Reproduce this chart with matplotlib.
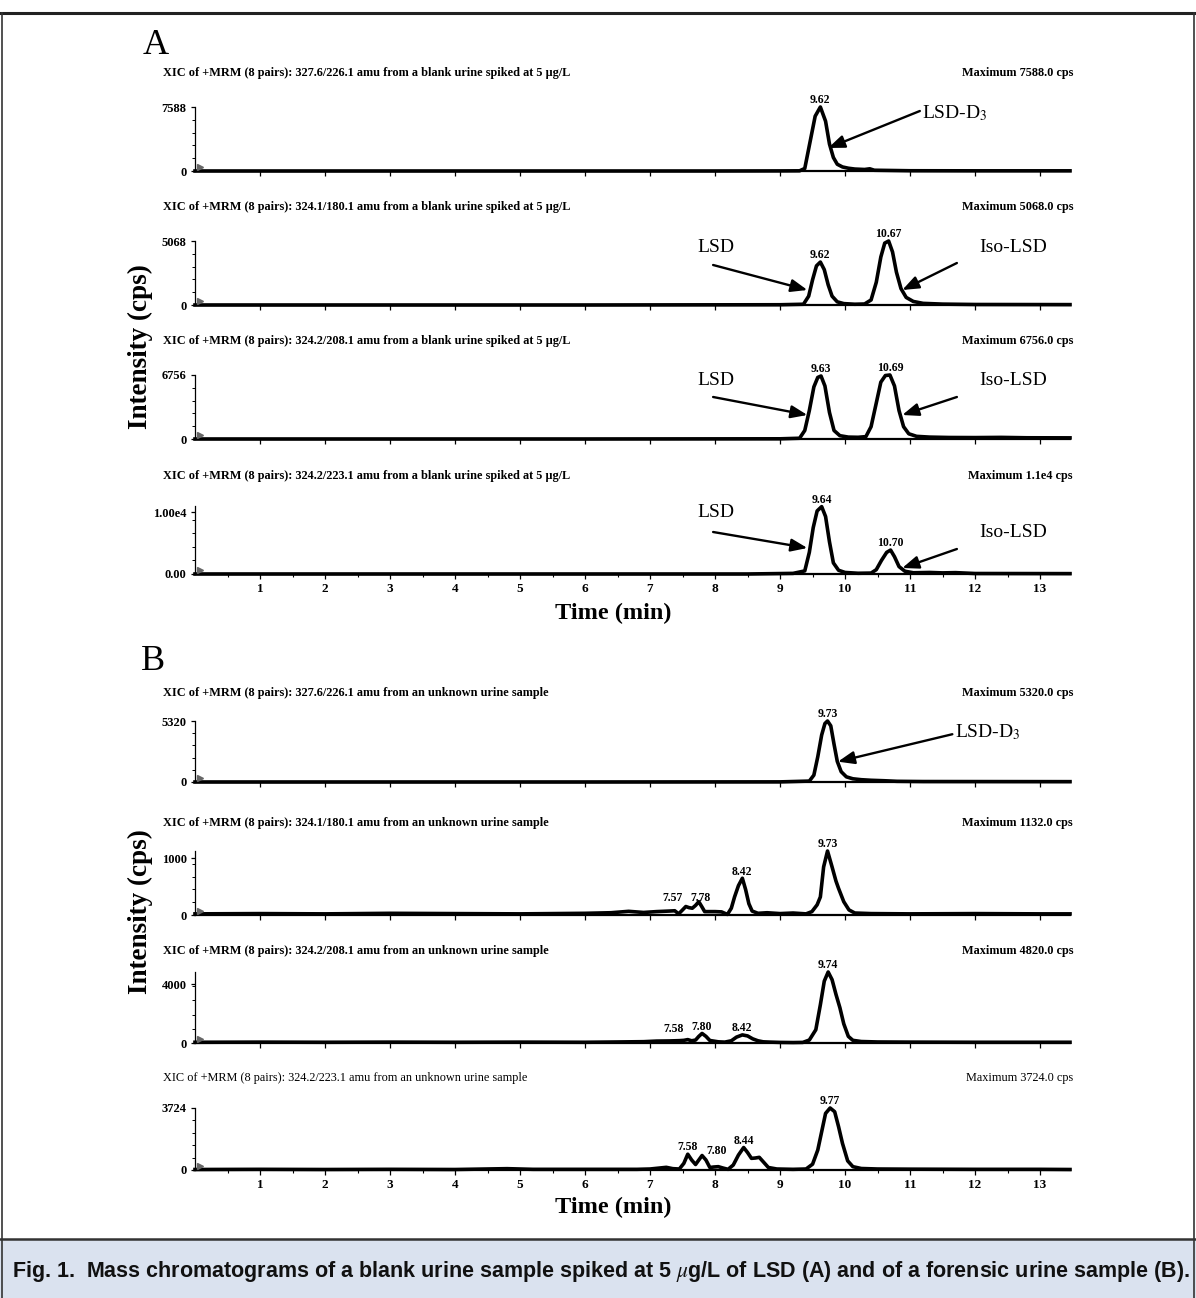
import matplotlib
matplotlib.use("Agg")
import matplotlib.pyplot as plt
import numpy as np
from matplotlib.lines import Line2D
from matplotlib.patches import Rectangle
from matplotlib.ticker import FixedLocator

plt.rcParams['font.family'] = ['Liberation Serif', 'DejaVu Serif']
plt.rcParams['mathtext.fontset'] = 'stix'

# ---------------- data ----------------
A1_t = [0, 2.0, 4.0, 6.0, 8.0, 9.0, 9.30, 9.38, 9.46, 9.54, 9.62, 9.70, 9.76, 9.82, 9.88, 9.96, 10.05, 10.15, 10.30, 10.38, 10.45, 11.0, 12.0, 13.46]
A1_y = [0, 0, 0, 0, 0, 10, 20, 300, 3400, 6500, 7588, 5900, 3200, 1600, 800, 480, 330, 230, 180, 260, 90, 30, 20, 20]

A2_t = [0, 3.0, 6.0, 9.0, 9.36, 9.44, 9.50, 9.56, 9.62, 9.68, 9.74, 9.80, 9.88, 9.98, 10.15, 10.30, 10.40, 10.48, 10.55, 10.61, 10.67, 10.73, 10.79, 10.86, 10.94, 11.05, 11.2, 11.5, 12.0, 13.46]
A2_y = [0, 0, 0, 20, 60, 700, 2000, 3100, 3400, 2800, 1600, 700, 250, 110, 60, 80, 400, 1800, 3800, 4900, 5068, 4200, 2600, 1300, 600, 280, 130, 70, 40, 30]

A3_t = [0, 3.0, 6.0, 9.0, 9.30, 9.38, 9.45, 9.52, 9.58, 9.63, 9.69, 9.76, 9.83, 9.92, 10.05, 10.20, 10.32, 10.40, 10.48, 10.55, 10.62, 10.69, 10.76, 10.83, 10.90, 10.98, 11.1, 11.3, 11.6, 12.0, 12.4, 12.8, 13.46]
A3_y = [0, 0, 0, 20, 80, 900, 3000, 5500, 6500, 6650, 5600, 2800, 900, 350, 200, 180, 250, 1300, 3800, 6000, 6700, 6756, 5600, 3000, 1300, 550, 280, 200, 160, 150, 170, 130, 120]

A4_t = [0, 3.0, 6.0, 8.5, 9.2, 9.38, 9.45, 9.51, 9.57, 9.64, 9.70, 9.76, 9.82, 9.90, 10.0, 10.2, 10.40, 10.48, 10.56, 10.64, 10.70, 10.76, 10.83, 10.92, 11.05, 11.3, 11.5, 11.7, 12.0, 13.46]
A4_y = [0, 0, 0, 0, 100, 500, 3500, 7500, 10200, 10900, 9300, 5200, 1800, 600, 250, 120, 150, 700, 2200, 3500, 3870, 2800, 1200, 450, 200, 250, 180, 220, 80, 60]

B1_t = [0, 3.0, 6.0, 9.0, 9.45, 9.52, 9.58, 9.64, 9.69, 9.73, 9.78, 9.83, 9.88, 9.94, 10.02, 10.12, 10.25, 10.40, 10.60, 10.80, 11.2, 13.46]
B1_y = [0, 0, 0, 10, 80, 600, 2200, 4100, 5100, 5320, 4900, 3300, 1800, 900, 450, 280, 200, 150, 110, 60, 40, 30]

B2_t = [0, 1.0, 2.0, 3.0, 4.0, 5.0, 6.0, 6.4, 6.67, 6.9, 7.1, 7.3, 7.38, 7.44, 7.50, 7.55, 7.60, 7.65, 7.70, 7.75, 7.80, 7.84, 8.0, 8.10, 8.19, 8.25, 8.30, 8.36, 8.42, 8.47, 8.52, 8.57, 8.66, 8.8, 9.0, 9.2, 9.4, 9.49, 9.57, 9.62, 9.67, 9.73, 9.80, 9.86, 9.90, 9.98, 10.06, 10.15, 10.4, 11.0, 12.0, 13.0, 13.46]
B2_y = [20, 25, 20, 30, 25, 20, 30, 40, 65, 45, 60, 70, 75, 20, 90, 150, 130, 120, 170, 235, 140, 60, 60, 55, 10, 120, 320, 520, 650, 450, 200, 70, 30, 40, 25, 35, 20, 60, 180, 320, 850, 1132, 850, 600, 470, 235, 90, 35, 25, 20, 25, 20, 20]

B3_t = [0, 1.0, 2.0, 3.0, 4.0, 5.0, 6.0, 6.5, 6.9, 7.1, 7.3, 7.45, 7.52, 7.58, 7.64, 7.70, 7.75, 7.80, 7.86, 7.92, 8.05, 8.15, 8.25, 8.33, 8.42, 8.50, 8.58, 8.66, 8.74, 8.85, 9.0, 9.2, 9.35, 9.45, 9.55, 9.62, 9.68, 9.74, 9.80, 9.86, 9.92, 9.98, 10.05, 10.12, 10.25, 10.5, 11.0, 12.0, 13.0, 13.46]
B3_y = [50, 60, 50, 60, 50, 60, 50, 70, 90, 130, 140, 160, 180, 230, 150, 200, 450, 650, 450, 170, 80, 60, 150, 400, 550, 480, 280, 150, 80, 60, 40, 30, 40, 200, 900, 2600, 4200, 4820, 4300, 3300, 2400, 1300, 450, 180, 100, 70, 60, 50, 50, 50]

B4_t = [0, 1.0, 2.0, 3.0, 4.0, 4.8, 5.2, 6.0, 6.8, 7.0, 7.15, 7.25, 7.35, 7.45, 7.52, 7.58, 7.64, 7.70, 7.75, 7.80, 7.86, 7.92, 7.98, 8.05, 8.12, 8.20, 8.28, 8.36, 8.44, 8.50, 8.56, 8.62, 8.68, 8.74, 8.82, 8.95, 9.2, 9.4, 9.5, 9.58, 9.64, 9.70, 9.77, 9.84, 9.90, 9.96, 10.04, 10.12, 10.25, 10.5, 11.0, 12.0, 13.0, 13.46]
B4_y = [30, 40, 30, 40, 30, 80, 40, 40, 40, 60, 120, 160, 80, 60, 400, 950, 600, 330, 600, 870, 600, 150, 180, 200, 120, 40, 300, 900, 1350, 1050, 700, 720, 760, 500, 150, 60, 40, 60, 350, 1200, 2300, 3400, 3724, 3500, 2600, 1600, 550, 200, 90, 60, 50, 40, 40, 30]

A_titles = [
    "XIC of +MRM (8 pairs): 327.6/226.1 amu from a blank urine spiked at 5 \u00b5g/L",
    "XIC of +MRM (8 pairs): 324.1/180.1 amu from a blank urine spiked at 5 \u00b5g/L",
    "XIC of +MRM (8 pairs): 324.2/208.1 amu from a blank urine spiked at 5 \u00b5g/L",
    "XIC of +MRM (8 pairs): 324.2/223.1 amu from a blank urine spiked at 5 \u00b5g/L",
]
B_titles = [
    "XIC of +MRM (8 pairs): 327.6/226.1 amu from an unknown urine sample",
    "XIC of +MRM (8 pairs): 324.1/180.1 amu from an unknown urine sample",
    "XIC of +MRM (8 pairs): 324.2/208.1 amu from an unknown urine sample",
    "XIC of +MRM (8 pairs): 324.2/223.1 amu from an unknown urine sample",
]
A_max = ["Maximum 7588.0 cps", "Maximum 5068.0 cps", "Maximum 6756.0 cps", "Maximum 1.1e4 cps"]
B_max = ["Maximum 5320.0 cps", "Maximum 1132.0 cps", "Maximum 4820.0 cps", "Maximum 3724.0 cps"]
A_ylim = [7588, 5068, 6756, 11000]
B_ylim = [5320, 1132, 4820, 3724]
A_yticks = [[0, 7588], [0, 5068], [0, 6756], [0, 10000]]
A_yticklabels = [["0", "7588"], ["0", "5068"], ["0", "6756"], ["0.00", "1.00e4"]]
B_yticks = [[0, 5320], [0, 1000], [0, 4000], [0, 3724]]
B_yticklabels = [["0", "5320"], ["0", "1000"], ["0", "4000"], ["0", "3724"]]
x_ticks = list(range(1, 14))
x_ticklabels = [str(i) for i in x_ticks]

A_peaks = [[("9.62", 9.62)], [("9.62", 9.62), ("10.67", 10.67)],
           [("9.63", 9.63), ("10.69", 10.69)], [("9.64", 9.64), ("10.70", 10.70)]]
B_peaks = [[("9.73", 9.73)],
           [("7.57", 7.57), ("7.78", 7.78), ("8.42", 8.42), ("9.73", 9.73)],
           [("7.58", 7.58), ("7.80", 7.80), ("8.42", 8.42), ("9.74", 9.74)],
           [("7.58", 7.58), ("7.80", 7.80), ("8.44", 8.44), ("9.77", 9.77)]]

caption = "Fig. 1.  Mass chromatograms of a blank urine sample spiked at 5 $\\mu$g/L of LSD (A) and of a forensic urine sample (B)."

# ---------------- layout ----------------
W, H = 1196, 1298
fig = plt.figure(figsize=(W / 100, H / 100), dpi=100)
X0, X1 = 195, 1070
XMAX = 13.46


def fy(ypx):
    return 1 - ypx / H


def fx(xpx):
    return xpx / W


# label offsets (points) per peak label: default above
special_offsets = {
    (5, "7.57"): (-3, 2, 'right'),
    (6, "7.58"): (-3, 3, 'right'),
    (7, "7.80"): (3, -1, 'left'),
}

panels = [
    (A1_t, A1_y, 171, 64, A_ylim[0], A_yticks[0], A_yticklabels[0], A_titles[0], A_max[0], A_peaks[0], False),
    (A2_t, A2_y, 305, 64, A_ylim[1], A_yticks[1], A_yticklabels[1], A_titles[1], A_max[1], A_peaks[1], False),
    (A3_t, A3_y, 439, 64, A_ylim[2], A_yticks[2], A_yticklabels[2], A_titles[2], A_max[2], A_peaks[2], False),
    (A4_t, A4_y, 574, 68, A_ylim[3], A_yticks[3], A_yticklabels[3], A_titles[3], A_max[3], A_peaks[3], True),
    (B1_t, B1_y, 782, 61, B_ylim[0], B_yticks[0], B_yticklabels[0], B_titles[0], B_max[0], B_peaks[0], False),
    (B2_t, B2_y, 915, 64, B_ylim[1], B_yticks[1], B_yticklabels[1], B_titles[1], B_max[1], B_peaks[1], False),
    (B3_t, B3_y, 1043, 71, B_ylim[2], B_yticks[2], B_yticklabels[2], B_titles[2], B_max[2], B_peaks[2], False),
    (B4_t, B4_y, 1170, 62, B_ylim[3], B_yticks[3], B_yticklabels[3], B_titles[3], B_max[3], B_peaks[3], True),
]
title_y = [73, 207, 341, 476, 693, 823, 951, 1078]
title_bold = [True, True, True, True, True, True, True, False]

axes = []
for i, (t, y, yb, h, ymax, yt, ytl, title, mx, peaks, bottom) in enumerate(panels):
    ax = fig.add_axes([fx(X0), fy(yb), (X1 - X0) / W, h / H])
    axes.append(ax)
    ax.plot(t, y, color='black', lw=2.6, solid_joinstyle='round', clip_on=False, zorder=3)
    ax.set_xlim(0, XMAX)
    ax.set_ylim(0, ymax)
    for s in ('top', 'right'):
        ax.spines[s].set_visible(False)
    ax.spines['left'].set_linewidth(0.9)
    ax.spines['bottom'].set_linewidth(1.6)
    ax.set_yticks(yt)
    ax.set_yticklabels(ytl, fontsize=9, fontweight='bold')
    ax.yaxis.set_minor_locator(FixedLocator(list(np.linspace(0, ymax, 6)[1:-1])))
    ax.tick_params(axis='y', which='major', direction='out', length=3, width=0.9, pad=3)
    ax.tick_params(axis='y', which='minor', direction='out', length=2, width=0.7)
    ax.set_xticks(x_ticks)
    if bottom:
        ax.set_xticklabels(x_ticklabels, fontsize=9.5, fontweight='bold')
        ax.xaxis.set_minor_locator(FixedLocator([k + 0.5 for k in range(0, 14)]))
        ax.tick_params(axis='x', which='minor', direction='out', length=2.5, width=0.8)
    else:
        ax.set_xticklabels([])
    ax.tick_params(axis='x', which='major', direction='out', length=3.5, width=0.9, pad=3)
    # little origin glyph
    ax.plot([0.006], [0.06], transform=ax.transAxes, marker='>', ms=4,
            color='#666666', clip_on=False, zorder=4)
    # peak labels
    for lab, pt in peaks:
        pv = float(np.interp(pt, t, y))
        dx, dy, ha = special_offsets.get((i, lab), (0, 0.5, 'center'))
        ax.annotate(lab, xy=(pt, pv), xytext=(dx, dy), textcoords='offset points',
                    ha=ha, va='bottom', fontsize=8.5, fontweight='bold',
                    annotation_clip=False)
    w = 'bold' if title_bold[i] else 'normal'
    fig.text(fx(163), fy(title_y[i]), title, ha='left', va='center', fontsize=8.8, fontweight=w)
    fig.text(fx(1073), fy(title_y[i]), mx, ha='right', va='center', fontsize=8.8, fontweight=w)

# ---------------- arrows and compound names ----------------
arrow_kw = dict(arrowstyle='-|>,head_length=0.9,head_width=0.35', lw=1.7, color='black',
                mutation_scale=11, shrinkA=0, shrinkB=0)


def label_arrow(ax, text, txy, tail, head, ha='center'):
    ax.text(txy[0], txy[1], text, ha=ha, va='center', fontsize=14, clip_on=False)
    ax.annotate('', xy=head, xytext=tail, arrowprops=arrow_kw, annotation_clip=False)


label_arrow(axes[0], 'LSD-D$_3$', (11.18, 6877), (11.15, 7114), (9.74, 2727), ha='left')
label_arrow(axes[1], 'LSD', (8.02, 4592), (7.97, 3168), (9.42, 1188))
label_arrow(axes[1], 'Iso-LSD', (12.58, 4592), (11.72, 3326), (10.88, 1188))
label_arrow(axes[2], 'LSD', (8.02, 6228), (7.97, 4434), (9.42, 2534))
label_arrow(axes[2], 'Iso-LSD', (12.58, 6228), (11.72, 4434), (10.88, 2534))
label_arrow(axes[3], 'LSD', (8.02, 9868), (7.97, 6794), (9.42, 4206))
label_arrow(axes[3], 'Iso-LSD', (12.58, 6794), (11.72, 4044), (10.88, 970))
label_arrow(axes[4], 'LSD-D$_3$', (11.69, 4345), (11.65, 4167), (9.89, 1773), ha='left')

# ---------------- figure texts ----------------
fig.text(fx(143), fy(46), 'A', fontsize=26, ha='left', va='center')
fig.text(fx(141), fy(661), 'B', fontsize=26, ha='left', va='center')
for yc in (347, 912):
    fig.text(fx(140), fy(yc), 'Intensity (cps)', rotation=90, ha='center', va='center',
             fontsize=19.5, fontweight='bold')
for yc in (613, 1207):
    fig.text(fx(613), fy(yc), 'Time (min)', ha='center', va='center', fontsize=17.5, fontweight='bold')

# ---------------- frame and caption ----------------
fig.patches.append(Rectangle((0, 0), 1, fy(1240), transform=fig.transFigure,
                             facecolor='#dae2ef', edgecolor='none', zorder=0))
fig.add_artist(Line2D([0, 1], [fy(13), fy(13)], transform=fig.transFigure, color='#222222', lw=2.2))
fig.add_artist(Line2D([0, 1], [fy(1239), fy(1239)], transform=fig.transFigure, color='#333333', lw=1.8))
fig.add_artist(Line2D([fx(2), fx(2)], [0, fy(13)], transform=fig.transFigure, color='#333333', lw=1.2))
fig.add_artist(Line2D([fx(1194), fx(1194)], [0, fy(13)], transform=fig.transFigure, color='#333333', lw=1.2))
fig.text(fx(12), fy(1271), caption, ha='left', va='center', fontsize=15.5, fontweight='bold',
         family=['Liberation Sans', 'DejaVu Sans'], color='#111111')

fig.savefig('out.png', dpi=100)
